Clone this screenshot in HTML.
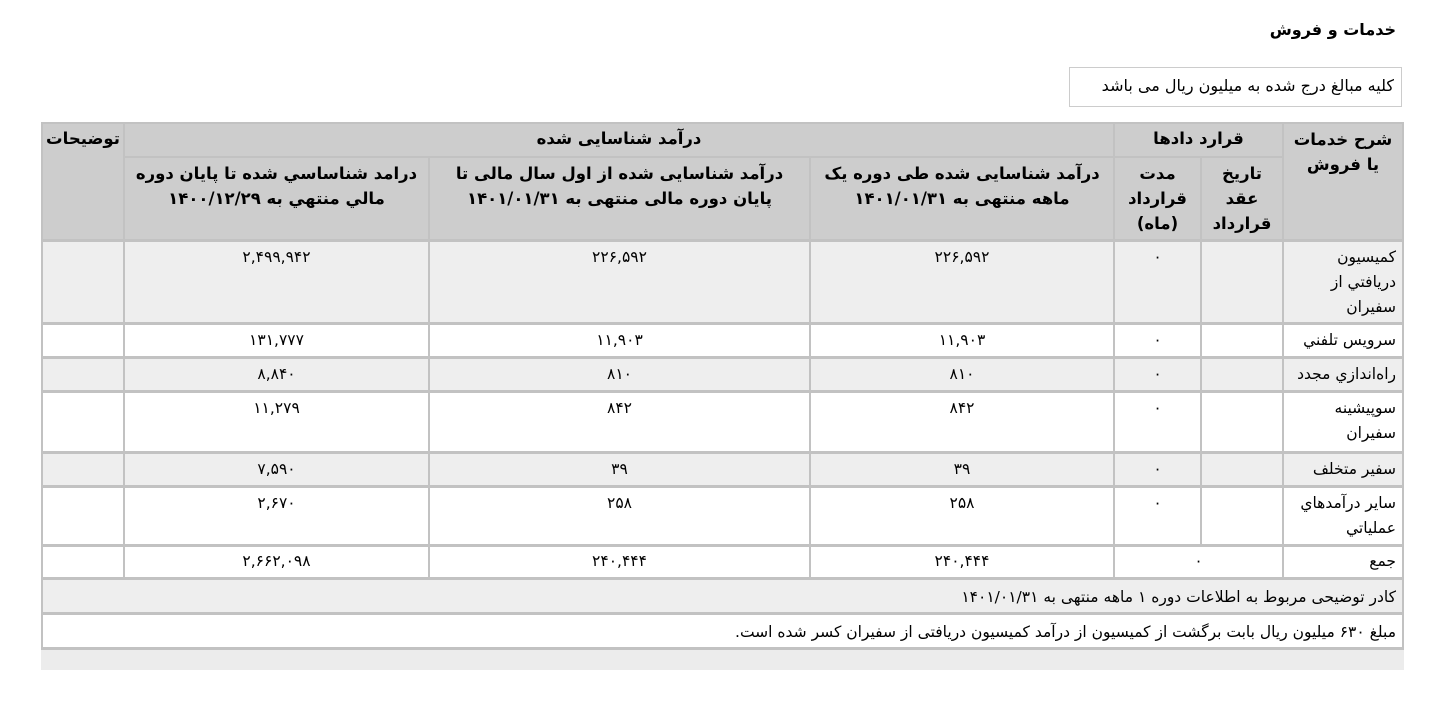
<!DOCTYPE html>
<html><head><meta charset="utf-8"><style>
body{margin:0;width:1444px;height:713px;background:#fff;position:relative;overflow:hidden;font-family:"DejaVu Sans","Liberation Sans",sans-serif;font-size:15.5px;color:#000}
.a{position:absolute;box-sizing:border-box}
.c{position:absolute;box-sizing:border-box;direction:rtl;padding:3px 6px;line-height:25px;white-space:nowrap}
.h{background:#cdcdcd;font-weight:bold;text-align:center;font-size:16.5px}
.g{background:#eeeeee}.w{background:#fff}
.n{text-align:center}
.r{text-align:right}
</style></head><body>
<div class="a" style="right:48px;top:20px;font-weight:bold;font-size:16px;direction:rtl">خدمات و فروش</div>
<div class="a" style="left:1069px;top:67px;width:333px;height:40px;border:1px solid #ccc;direction:rtl;text-align:right;padding:8px 7px;font-size:16px;white-space:nowrap">کلیه مبالغ درج شده به میلیون ریال می باشد</div>
<div class="a" style="left:41px;top:122px;width:1363px;height:528px;background:#c2c2c2"></div>
<!-- header -->
<div class="c h" style="left:1284px;top:124px;width:118px;height:115px">شرح خدمات<br>یا فروش</div>
<div class="c h" style="left:1115px;top:124px;width:167px;height:32px;padding-top:2px">قرارد دادها</div>
<div class="c h" style="left:1202px;top:158px;width:80px;height:81px">تاریخ<br>عقد<br>قرارداد</div>
<div class="c h" style="left:1115px;top:158px;width:85px;height:81px">مدت<br>قرارداد<br>(ماه)</div>
<div class="c h" style="left:125px;top:124px;width:988px;height:32px;padding-top:2px">درآمد شناسایی شده</div>
<div class="c h" style="left:811px;top:158px;width:302px;height:81px">درآمد شناسایی شده طی دوره یک<br>ماهه منتهی به ۱۴۰۱/۰۱/۳۱</div>
<div class="c h" style="left:430px;top:158px;width:379px;height:81px">درآمد شناسایی شده از اول سال مالی تا<br>پایان دوره مالی منتهی به ۱۴۰۱/۰۱/۳۱</div>
<div class="c h" style="left:125px;top:158px;width:303px;height:81px">درامد شناساسي شده تا پایان دوره<br>مالي منتهي به ۱۴۰۰/۱۲/۲۹</div>
<div class="c h" style="left:43px;top:124px;width:80px;height:115px;padding:2px 1px">توضیحات</div>

<!-- rows -->
<div class="c g r" style="left:1284px;top:242px;width:118px;height:80px">کمیسیون<br>دریافتي از<br>سفیران</div>
<div class="c g" style="left:1202px;top:242px;width:80px;height:80px"></div>
<div class="c g n" style="left:1115px;top:242px;width:85px;height:80px">۰</div>
<div class="c g n" style="left:811px;top:242px;width:302px;height:80px">۲۲۶,۵۹۲</div>
<div class="c g n" style="left:430px;top:242px;width:379px;height:80px">۲۲۶,۵۹۲</div>
<div class="c g n" style="left:125px;top:242px;width:303px;height:80px">۲,۴۹۹,۹۴۲</div>
<div class="c g" style="left:43px;top:242px;width:80px;height:80px"></div>

<div class="c w r" style="left:1284px;top:325px;width:118px;height:31px">سرویس تلفني</div>
<div class="c w" style="left:1202px;top:325px;width:80px;height:31px"></div>
<div class="c w n" style="left:1115px;top:325px;width:85px;height:31px">۰</div>
<div class="c w n" style="left:811px;top:325px;width:302px;height:31px">۱۱,۹۰۳</div>
<div class="c w n" style="left:430px;top:325px;width:379px;height:31px">۱۱,۹۰۳</div>
<div class="c w n" style="left:125px;top:325px;width:303px;height:31px">۱۳۱,۷۷۷</div>
<div class="c w" style="left:43px;top:325px;width:80px;height:31px"></div>

<div class="c g r" style="left:1284px;top:359px;width:118px;height:31px">راه‌اندازي مجدد</div>
<div class="c g" style="left:1202px;top:359px;width:80px;height:31px"></div>
<div class="c g n" style="left:1115px;top:359px;width:85px;height:31px">۰</div>
<div class="c g n" style="left:811px;top:359px;width:302px;height:31px">۸۱۰</div>
<div class="c g n" style="left:430px;top:359px;width:379px;height:31px">۸۱۰</div>
<div class="c g n" style="left:125px;top:359px;width:303px;height:31px">۸,۸۴۰</div>
<div class="c g" style="left:43px;top:359px;width:80px;height:31px"></div>

<div class="c w r" style="left:1284px;top:393px;width:118px;height:58px">سوپیشینه<br>سفیران</div>
<div class="c w" style="left:1202px;top:393px;width:80px;height:58px"></div>
<div class="c w n" style="left:1115px;top:393px;width:85px;height:58px">۰</div>
<div class="c w n" style="left:811px;top:393px;width:302px;height:58px">۸۴۲</div>
<div class="c w n" style="left:430px;top:393px;width:379px;height:58px">۸۴۲</div>
<div class="c w n" style="left:125px;top:393px;width:303px;height:58px">۱۱,۲۷۹</div>
<div class="c w" style="left:43px;top:393px;width:80px;height:58px"></div>

<div class="c g r" style="left:1284px;top:454px;width:118px;height:31px">سفیر متخلف</div>
<div class="c g" style="left:1202px;top:454px;width:80px;height:31px"></div>
<div class="c g n" style="left:1115px;top:454px;width:85px;height:31px">۰</div>
<div class="c g n" style="left:811px;top:454px;width:302px;height:31px">۳۹</div>
<div class="c g n" style="left:430px;top:454px;width:379px;height:31px">۳۹</div>
<div class="c g n" style="left:125px;top:454px;width:303px;height:31px">۷,۵۹۰</div>
<div class="c g" style="left:43px;top:454px;width:80px;height:31px"></div>

<div class="c w r" style="left:1284px;top:488px;width:118px;height:56px">سایر درآمدهاي<br>عملیاتي</div>
<div class="c w" style="left:1202px;top:488px;width:80px;height:56px"></div>
<div class="c w n" style="left:1115px;top:488px;width:85px;height:56px">۰</div>
<div class="c w n" style="left:811px;top:488px;width:302px;height:56px">۲۵۸</div>
<div class="c w n" style="left:430px;top:488px;width:379px;height:56px">۲۵۸</div>
<div class="c w n" style="left:125px;top:488px;width:303px;height:56px">۲,۶۷۰</div>
<div class="c w" style="left:43px;top:488px;width:80px;height:56px"></div>

<div class="c w r" style="left:1284px;top:547px;width:118px;height:30px;padding-top:2px">جمع</div>
<div class="c w" style="left:1115px;top:547px;width:167px;height:30px;padding-top:2px;text-align:center">۰</div>
<div class="c w n" style="left:811px;top:547px;width:302px;height:30px;padding-top:2px">۲۴۰,۴۴۴</div>
<div class="c w n" style="left:430px;top:547px;width:379px;height:30px;padding-top:2px">۲۴۰,۴۴۴</div>
<div class="c w n" style="left:125px;top:547px;width:303px;height:30px;padding-top:2px">۲,۶۶۲,۰۹۸</div>
<div class="c w" style="left:43px;top:547px;width:80px;height:30px"></div>

<div class="c g r" style="left:43px;top:580px;width:1359px;height:32px;padding-top:5px">کادر توضیحی مربوط به اطلاعات دوره ۱ ماهه منتهی به ۱۴۰۱/۰۱/۳۱</div>
<div class="c w r" style="left:43px;top:615px;width:1359px;height:32px;padding-top:5px">مبلغ ۶۳۰ میلیون ریال بابت برگشت از کمیسیون از درآمد کمیسیون دریافتی از سفیران کسر شده است.</div>
<div class="a" style="left:41px;top:650px;width:1363px;height:20px;background:#ececec"></div>
</body></html>
